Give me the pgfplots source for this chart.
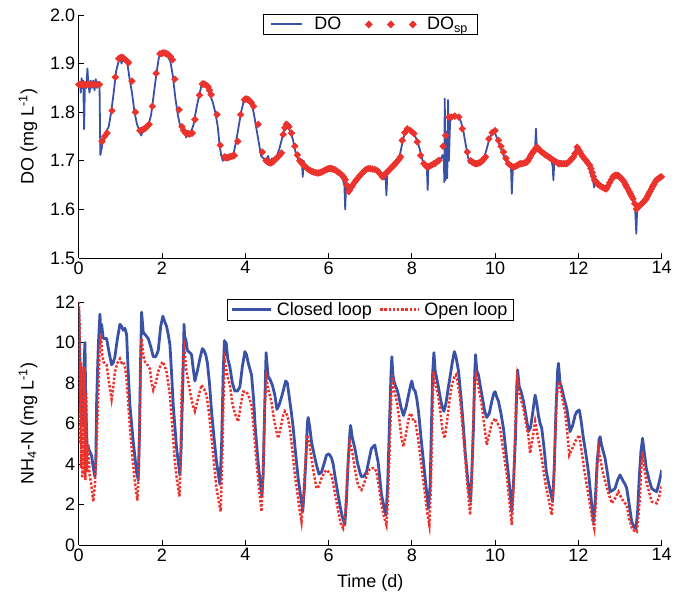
\documentclass[border=0pt]{standalone}
\usepackage{fontspec}
\setmainfont{Liberation Sans}
\usepackage{pgfplots}
\pgfplotsset{compat=1.18}

\definecolor{doblue}{RGB}{58,82,166}
\definecolor{spred}{RGB}{236,50,44}

\pgfplotsset{
  panel/.style={
    scale only axis, width=583bp, height=243bp,
    axis lines=left, axis line style={-, line width=0.8bp},
    tick align=inside, major tick length=5bp,
    tick style={line width=0.8bp, black},
    xmin=0, xmax=14, xtick={0,2,...,14},
    /pgf/number format/assume math mode=true,
    every axis y label/.style={at={(axis description cs:0,0.5)}, xshift=-50.7bp, rotate=90, anchor=center},
    legend style={draw=black, line width=0.8bp, fill=white, inner ysep=1bp,
      at={(0.5,1)}, anchor=north, legend columns=-1},
    legend cell align=left,
  },
  leg line/.style={legend image code/.code={\draw[##1] (0bp,0bp) -- (#1,0bp);}},
  leg marks/.style={legend image code/.code={\draw[##1] plot coordinates {(0bp,0bp) (22bp,0bp) (44bp,0bp)};}},
}

\begin{document}
\begin{tikzpicture}[font=\fontsize{18bp}{21bp}\selectfont]
\useasboundingbox (0,0) rectangle (684bp,594bp);

% dissolved oxygen
\begin{axis}[panel, at={(78.7bp,336bp)}, anchor=south west,
  ymin=1.5, ymax=2.0, ytick={1.5,1.6,...,2.0},
  yticklabel style={/pgf/number format/.cd, fixed, fixed zerofill, precision=1},
  ylabel={DO (mg L\textsuperscript{-1})},
  legend style={yshift=1bp, inner xsep=7bp,
    /tikz/every odd column/.append style={column sep=9bp},
    /tikz/every even column/.append style={column sep=22bp}},
]
\addlegendimage{doblue, line width=2bp, leg line=31bp}
\addlegendentry{DO}
\addplot[only marks, mark=square*, mark size=2.4bp, mark options={rotate=45, draw=spred, fill=spred},
  leg marks] coordinates {
(0.00,1.857) (0.05,1.857) (0.10,1.857) (0.15,1.857) (0.20,1.857) (0.25,1.857) (0.30,1.857) (0.35,1.857)
(0.40,1.857) (0.45,1.857) (0.50,1.857) (0.56,1.740) (0.62,1.750) (0.68,1.757) (0.80,1.803) (0.88,1.872)
(0.96,1.910) (1.00,1.912) (1.04,1.913) (1.08,1.911) (1.12,1.908) (1.16,1.905) (1.20,1.902) (1.28,1.864)
(1.36,1.800) (1.47,1.762) (1.51,1.763) (1.56,1.765) (1.60,1.767) (1.63,1.770) (1.66,1.772) (1.69,1.775)
(1.77,1.812) (1.86,1.880) (1.95,1.920) (1.99,1.921) (2.02,1.922) (2.05,1.922) (2.09,1.921) (2.12,1.920)
(2.16,1.918) (2.20,1.915) (2.25,1.908) (2.31,1.868) (2.41,1.805) (2.48,1.770) (2.52,1.762) (2.57,1.757)
(2.61,1.756) (2.65,1.755) (2.69,1.756) (2.73,1.757) (2.79,1.785) (2.90,1.835) (2.97,1.858) (3.00,1.858)
(3.04,1.857) (3.07,1.855) (3.11,1.852) (3.14,1.845) (3.18,1.836) (3.32,1.795) (3.40,1.732) (3.50,1.708)
(3.53,1.707) (3.56,1.706) (3.59,1.707) (3.62,1.708) (3.66,1.709) (3.70,1.710) (3.74,1.711) (3.82,1.740)
(3.89,1.795) (3.98,1.826) (4.01,1.827) (4.04,1.827) (4.07,1.826) (4.10,1.824) (4.14,1.820) (4.20,1.812)
(4.31,1.775) (4.41,1.718) (4.50,1.700) (4.53,1.698) (4.56,1.697) (4.60,1.696) (4.63,1.696) (4.67,1.698)
(4.71,1.702) (4.75,1.705) (4.81,1.710) (4.87,1.716) (4.91,1.754) (4.95,1.768) (4.99,1.775) (5.02,1.773)
(5.05,1.770) (5.11,1.757) (5.19,1.730) (5.25,1.712) (5.31,1.700) (5.34,1.697) (5.38,1.693) (5.41,1.690)
(5.44,1.688) (5.48,1.685) (5.52,1.682) (5.56,1.680) (5.60,1.678) (5.64,1.677) (5.68,1.676) (5.72,1.675)
(5.76,1.675) (5.80,1.676) (5.84,1.677) (5.88,1.679) (5.92,1.681) (5.95,1.682) (5.98,1.683) (6.01,1.684)
(6.04,1.684) (6.07,1.684) (6.10,1.683) (6.13,1.682) (6.16,1.681) (6.20,1.679) (6.24,1.676) (6.28,1.674)
(6.32,1.671) (6.36,1.667) (6.40,1.661) (6.44,1.650) (6.48,1.637) (6.51,1.640) (6.55,1.646) (6.58,1.650)
(6.62,1.655) (6.66,1.660) (6.70,1.664) (6.74,1.668) (6.78,1.672) (6.82,1.676) (6.86,1.679) (6.90,1.682)
(6.95,1.684) (7.00,1.684) (7.05,1.683) (7.11,1.682) (7.17,1.680) (7.23,1.674) (7.29,1.667) (7.32,1.669)
(7.35,1.672) (7.38,1.675) (7.41,1.677) (7.45,1.681) (7.49,1.684) (7.53,1.688) (7.57,1.691) (7.61,1.695)
(7.65,1.699) (7.69,1.703) (7.73,1.708) (7.77,1.742) (7.83,1.758) (7.89,1.766) (7.97,1.762) (8.05,1.756)
(8.13,1.739) (8.21,1.711) (8.29,1.694) (8.33,1.690) (8.37,1.687) (8.41,1.688) (8.45,1.690) (8.49,1.692)
(8.53,1.694) (8.56,1.695) (8.59,1.697) (8.62,1.699) (8.65,1.701) (8.75,1.730) (8.81,1.752) (8.89,1.790)
(8.95,1.790) (9.03,1.792) (9.13,1.790) (9.21,1.766) (9.33,1.718) (9.41,1.700) (9.44,1.698) (9.47,1.697)
(9.50,1.695) (9.53,1.694) (9.56,1.694) (9.59,1.695) (9.62,1.696) (9.65,1.697) (9.68,1.699) (9.71,1.702)
(9.74,1.705) (9.77,1.708) (9.85,1.745) (9.93,1.758) (10.00,1.762) (10.08,1.742) (10.14,1.730) (10.20,1.718)
(10.26,1.705) (10.32,1.694) (10.38,1.690) (10.44,1.687) (10.48,1.688) (10.52,1.690) (10.56,1.692) (10.60,1.694)
(10.64,1.694) (10.68,1.695) (10.72,1.696) (10.76,1.697) (10.79,1.700) (10.82,1.705) (10.85,1.710) (10.88,1.714)
(10.91,1.718) (10.94,1.721) (10.97,1.725) (11.00,1.728) (11.03,1.726) (11.06,1.723) (11.09,1.720) (11.12,1.718)
(11.15,1.716) (11.18,1.714) (11.21,1.712) (11.24,1.711) (11.28,1.708) (11.32,1.706) (11.36,1.703) (11.40,1.701)
(11.44,1.699) (11.48,1.697) (11.52,1.695) (11.56,1.694) (11.60,1.694) (11.64,1.694) (11.68,1.694) (11.72,1.694)
(11.76,1.697) (11.80,1.700) (11.84,1.704) (11.88,1.708) (11.92,1.715) (11.97,1.728) (12.01,1.722) (12.04,1.718)
(12.08,1.712) (12.11,1.708) (12.15,1.704) (12.19,1.700) (12.23,1.695) (12.27,1.691) (12.30,1.684) (12.33,1.676)
(12.36,1.668) (12.39,1.660) (12.42,1.657) (12.45,1.654) (12.48,1.651) (12.51,1.649) (12.55,1.647) (12.59,1.645)
(12.63,1.643) (12.67,1.642) (12.71,1.648) (12.75,1.655) (12.79,1.661) (12.83,1.667) (12.86,1.669) (12.89,1.670)
(12.92,1.670) (12.95,1.670) (12.98,1.668) (13.01,1.665) (13.04,1.663) (13.07,1.660) (13.10,1.656) (13.13,1.651)
(13.16,1.646) (13.19,1.642) (13.22,1.637) (13.25,1.632) (13.28,1.627) (13.31,1.622) (13.35,1.612) (13.39,1.601)
(13.42,1.603) (13.45,1.606) (13.48,1.608) (13.51,1.611) (13.54,1.613) (13.57,1.616) (13.60,1.619) (13.63,1.622)
(13.66,1.627) (13.69,1.632) (13.72,1.637) (13.75,1.642) (13.78,1.647) (13.81,1.651) (13.84,1.656) (13.87,1.660)
(13.90,1.662) (13.93,1.664) (13.96,1.666) (13.99,1.667)
};
\addlegendentry{DO\textsubscript{sp}}
\addplot[doblue, line width=1.8bp, line join=round, forget plot] coordinates {
(0.00,1.855) (0.03,1.862) (0.05,1.840) (0.07,1.870) (0.09,1.850) (0.11,1.865) (0.13,1.765) (0.15,1.860)
(0.18,1.850) (0.21,1.890) (0.23,1.860) (0.26,1.840) (0.29,1.865) (0.32,1.850) (0.35,1.865) (0.38,1.845)
(0.41,1.868) (0.44,1.850) (0.47,1.862) (0.50,1.855) (0.52,1.712) (0.55,1.725) (0.58,1.740) (0.62,1.745)
(0.66,1.760) (0.72,1.770) (0.78,1.800) (0.84,1.840) (0.90,1.885) (0.96,1.905) (1.00,1.912) (1.03,1.900)
(1.06,1.918) (1.09,1.905) (1.12,1.912) (1.17,1.900) (1.22,1.870) (1.28,1.840) (1.34,1.800) (1.40,1.775)
(1.46,1.762) (1.50,1.752) (1.55,1.762) (1.62,1.768) (1.68,1.775) (1.74,1.795) (1.80,1.835) (1.86,1.875)
(1.92,1.910) (1.97,1.922) (2.03,1.918) (2.08,1.922) (2.13,1.915) (2.20,1.905) (2.26,1.875) (2.32,1.830)
(2.38,1.795) (2.44,1.770) (2.50,1.760) (2.55,1.765) (2.58,1.748) (2.62,1.762) (2.66,1.750) (2.70,1.760)
(2.76,1.775) (2.82,1.805) (2.88,1.830) (2.94,1.852) (2.98,1.862) (3.04,1.855) (3.10,1.848) (3.16,1.835)
(3.22,1.820) (3.28,1.800) (3.34,1.770) (3.38,1.735) (3.42,1.712) (3.46,1.700) (3.52,1.705) (3.58,1.705)
(3.66,1.712) (3.72,1.715) (3.78,1.740) (3.84,1.770) (3.90,1.800) (3.96,1.822) (4.02,1.826) (4.08,1.823)
(4.14,1.820) (4.20,1.800) (4.26,1.770) (4.32,1.740) (4.38,1.710) (4.44,1.705) (4.50,1.700) (4.55,1.710)
(4.60,1.690) (4.64,1.705) (4.70,1.700) (4.76,1.710) (4.82,1.725) (4.88,1.745) (4.94,1.765) (4.98,1.780)
(5.02,1.770) (5.08,1.760) (5.14,1.745) (5.20,1.720) (5.26,1.705) (5.32,1.695) (5.36,1.702) (5.38,1.667)
(5.40,1.700) (5.46,1.688) (5.52,1.685) (5.58,1.680) (5.66,1.675) (5.74,1.676) (5.82,1.678) (5.90,1.681)
(5.96,1.685) (6.02,1.683) (6.10,1.685) (6.18,1.680) (6.26,1.672) (6.34,1.662) (6.38,1.650) (6.40,1.600)
(6.42,1.648) (6.46,1.642) (6.50,1.632) (6.56,1.645) (6.62,1.652) (6.70,1.662) (6.78,1.672) (6.86,1.680)
(6.94,1.685) (7.02,1.682) (7.10,1.684) (7.18,1.678) (7.26,1.668) (7.32,1.662) (7.37,1.665) (7.39,1.629)
(7.41,1.672) (7.46,1.678) (7.52,1.684) (7.60,1.692) (7.66,1.700) (7.72,1.715) (7.78,1.740) (7.84,1.760)
(7.90,1.768) (7.96,1.762) (8.02,1.758) (8.08,1.750) (8.14,1.740) (8.20,1.720) (8.26,1.700) (8.30,1.692)
(8.36,1.688) (8.38,1.640) (8.40,1.690) (8.46,1.688) (8.52,1.694) (8.58,1.696) (8.64,1.700) (8.70,1.705)
(8.74,1.712) (8.77,1.700) (8.78,1.656) (8.79,1.828) (8.81,1.660) (8.83,1.760) (8.85,1.664) (8.87,1.825)
(8.89,1.700) (8.92,1.785) (8.98,1.790) (9.05,1.795) (9.12,1.792) (9.18,1.780) (9.24,1.760) (9.30,1.730)
(9.34,1.712) (9.38,1.695) (9.42,1.705) (9.46,1.692) (9.50,1.700) (9.56,1.695) (9.62,1.698) (9.68,1.700)
(9.74,1.708) (9.80,1.725) (9.86,1.745) (9.92,1.755) (9.97,1.762) (10.02,1.752) (10.08,1.738) (10.14,1.725)
(10.20,1.712) (10.26,1.700) (10.32,1.692) (10.38,1.690) (10.40,1.632) (10.43,1.690) (10.50,1.690) (10.58,1.694)
(10.66,1.696) (10.74,1.698) (10.80,1.703) (10.86,1.712) (10.92,1.720) (10.96,1.725) (10.98,1.766) (11.00,1.730)
(11.06,1.722) (11.12,1.716) (11.20,1.712) (11.28,1.707) (11.34,1.703) (11.38,1.690) (11.40,1.660) (11.42,1.700)
(11.46,1.698) (11.50,1.700) (11.52,1.688) (11.55,1.700) (11.62,1.695) (11.70,1.696) (11.78,1.700) (11.86,1.710)
(11.92,1.720) (11.96,1.732) (12.02,1.720) (12.08,1.710) (12.14,1.702) (12.20,1.695) (12.26,1.685) (12.30,1.672)
(12.35,1.660) (12.38,1.645) (12.40,1.664) (12.46,1.652) (12.52,1.648) (12.60,1.645) (12.66,1.645) (12.72,1.652)
(12.78,1.662) (12.84,1.668) (12.90,1.671) (12.96,1.668) (13.02,1.664) (13.08,1.658) (13.14,1.648) (13.20,1.638)
(13.26,1.628) (13.32,1.615) (13.36,1.605) (13.39,1.550) (13.41,1.600) (13.44,1.612) (13.48,1.608) (13.54,1.612)
(13.60,1.620) (13.66,1.628) (13.72,1.638) (13.78,1.648) (13.84,1.656) (13.90,1.662) (13.96,1.666) (14.00,1.664)
};
\end{axis}

% ammonium
\begin{axis}[panel, at={(78.7bp,49bp)}, anchor=south west,
  ymin=0, ymax=12, ytick={0,2,...,12},
  ylabel={NH\textsubscript{4}-N (mg L\textsuperscript{-1})},
  xlabel={Time (d)},
  xlabel style={at={(axis description cs:0.5,0)}, yshift=-38bp, anchor=center},
  legend style={yshift=3bp, inner xsep=4bp,
    /tikz/every odd column/.append style={column sep=2bp},
    /tikz/every even column/.append style={column sep=5bp}},
]
\addplot[doblue, line width=2.8bp, line join=round, leg line=39bp] coordinates {
(0.00,11.8) (0.03,9.0) (0.05,6.5) (0.07,8.5) (0.09,6.0) (0.12,8.5) (0.15,10.0) (0.17,7.0)
(0.20,5.0) (0.23,4.8) (0.27,4.6) (0.31,4.4) (0.35,3.8) (0.39,3.37) (0.41,4.0) (0.43,7.0)
(0.47,9.8) (0.51,11.4) (0.53,10.5) (0.55,10.9) (0.59,10.2) (0.67,10.2) (0.73,9.5) (0.79,8.9)
(0.83,9.0) (0.87,9.3) (0.93,10.2) (0.99,10.9) (1.03,10.8) (1.07,10.6) (1.11,10.7) (1.15,10.4)
(1.19,8.5) (1.23,6.9) (1.31,5.1) (1.39,3.6) (1.43,3.2) (1.46,5.5) (1.48,8.5) (1.51,11.5)
(1.53,11.0) (1.55,10.5) (1.59,10.4) (1.67,10.2) (1.73,9.8) (1.79,9.3) (1.85,9.3) (1.91,9.6)
(1.97,10.8) (2.02,11.3) (2.07,11.0) (2.11,10.8) (2.15,10.4) (2.19,9.9) (2.23,8.5) (2.27,6.9)
(2.35,4.8) (2.43,3.45) (2.46,4.8) (2.50,7.9) (2.53,10.9) (2.55,10.0) (2.57,10.2) (2.61,9.6)
(2.67,9.5) (2.71,9.4) (2.75,8.7) (2.79,8.1) (2.85,8.6) (2.91,9.2) (2.97,9.7) (3.01,9.6)
(3.05,9.4) (3.09,9.0) (3.14,8.0) (3.19,6.6) (3.25,5.3) (3.31,4.1) (3.39,3.0) (3.43,4.8)
(3.47,8.5) (3.50,10.1) (3.52,9.4) (3.54,10.0) (3.58,9.2) (3.63,8.8) (3.69,8.0) (3.75,7.6)
(3.81,7.6) (3.87,7.8) (3.93,8.8) (3.99,9.55) (4.03,9.4) (4.07,9.0) (4.11,8.7) (4.15,8.4)
(4.20,7.2) (4.24,5.8) (4.32,3.8) (4.40,2.4) (4.43,3.5) (4.47,7.1) (4.50,9.5) (4.52,9.0)
(4.55,8.3) (4.59,8.2) (4.65,7.9) (4.71,7.4) (4.76,6.7) (4.81,6.9) (4.87,7.3) (4.91,7.6)
(4.97,8.1) (5.01,8.0) (5.07,7.1) (5.11,6.5) (5.15,5.8) (5.21,4.5) (5.27,3.3) (5.33,2.4)
(5.38,1.65) (5.42,2.8) (5.46,4.4) (5.49,6.0) (5.51,6.3) (5.55,5.8) (5.59,5.1) (5.65,4.5)
(5.71,3.95) (5.77,3.5) (5.83,3.6) (5.89,4.0) (5.95,4.44) (6.01,4.5) (6.07,4.3) (6.11,4.0)
(6.15,3.46) (6.21,2.7) (6.27,2.0) (6.33,1.4) (6.39,1.0) (6.43,2.2) (6.47,4.1) (6.51,5.5)
(6.53,5.9) (6.57,5.3) (6.63,4.8) (6.69,4.1) (6.75,3.6) (6.79,3.37) (6.85,3.4) (6.91,3.6)
(6.97,4.2) (7.03,4.77) (7.07,4.85) (7.11,4.94) (7.15,4.5) (7.19,4.1) (7.23,3.3) (7.27,2.5)
(7.33,1.9) (7.38,1.48) (7.42,3.0) (7.46,5.8) (7.50,8.5) (7.52,9.3) (7.54,8.5) (7.57,8.1)
(7.60,7.9) (7.64,7.7) (7.68,7.4) (7.74,6.8) (7.80,6.4) (7.86,6.8) (7.92,7.4) (7.97,7.9)
(8.00,8.1) (8.04,7.7) (8.08,7.6) (8.12,7.2) (8.16,6.6) (8.22,5.3) (8.28,4.1) (8.34,2.9)
(8.40,1.8) (8.44,3.0) (8.47,5.8) (8.50,8.5) (8.53,9.5) (8.56,8.6) (8.60,8.2) (8.63,7.9)
(8.68,7.3) (8.73,6.8) (8.77,6.6) (8.82,7.0) (8.87,7.7) (8.91,8.2) (8.97,9.0) (9.02,9.55)
(9.06,9.3) (9.12,8.6) (9.18,7.3) (9.24,5.8) (9.28,4.6) (9.33,3.5) (9.37,2.7) (9.41,2.14)
(9.44,3.5) (9.48,5.8) (9.51,8.5) (9.53,9.4) (9.56,8.6) (9.60,8.4) (9.64,7.9) (9.70,7.2)
(9.75,6.6) (9.80,6.3) (9.86,6.5) (9.92,7.1) (9.97,7.5) (10.00,7.57) (10.04,7.3) (10.08,7.1)
(10.14,6.5) (10.20,5.76) (10.26,4.6) (10.32,3.46) (10.36,2.6) (10.40,1.65) (10.44,3.0) (10.49,5.4)
(10.52,7.8) (10.54,8.64) (10.58,7.8) (10.62,7.6) (10.68,7.1) (10.74,6.4) (10.80,5.6) (10.85,5.8)
(10.90,6.5) (10.96,7.4) (11.00,7.0) (11.04,6.4) (11.08,6.0) (11.12,5.76) (11.18,4.7) (11.23,3.62)
(11.30,2.9) (11.38,2.14) (11.42,3.8) (11.46,6.6) (11.50,8.6) (11.52,8.97) (11.56,8.0) (11.60,7.74)
(11.66,7.2) (11.72,6.75) (11.76,6.2) (11.80,5.6) (11.86,5.9) (11.92,6.4) (11.96,6.58) (12.02,6.67)
(12.06,6.2) (12.12,5.27) (12.18,4.5) (12.24,3.62) (12.30,2.4) (12.36,1.15) (12.40,2.0) (12.45,4.1)
(12.50,5.2) (12.52,5.35) (12.56,4.9) (12.64,4.28) (12.70,3.5) (12.76,2.63) (12.82,2.7) (12.88,2.8)
(12.94,3.2) (13.00,3.46) (13.04,3.3) (13.08,3.13) (13.12,3.0) (13.16,2.8) (13.22,2.0) (13.28,1.15)
(13.33,0.9) (13.38,0.82) (13.42,1.6) (13.46,3.29) (13.50,4.6) (13.54,5.27) (13.58,4.6) (13.63,3.79)
(13.70,3.2) (13.76,2.8) (13.82,2.7) (13.88,2.63) (13.94,3.1) (14.00,3.7)
};
\addlegendentry{Closed loop}
\addplot[spred, line width=2.5bp, dash pattern=on 2.4bp off 1.8bp, leg line=39bp] coordinates {
(0.00,12.0) (0.02,11.0) (0.03,5.0) (0.05,9.0) (0.06,3.8) (0.08,8.8) (0.09,3.3) (0.11,8.5)
(0.12,3.5) (0.14,8.8) (0.16,3.2) (0.18,7.5) (0.20,3.6) (0.23,5.0) (0.26,3.5) (0.30,3.0)
(0.35,2.14) (0.39,3.0) (0.43,5.0) (0.47,7.4) (0.50,9.5) (0.53,10.4) (0.56,9.5) (0.59,9.05)
(0.67,8.9) (0.73,8.0) (0.79,7.2) (0.83,7.8) (0.87,8.56) (0.93,9.0) (0.99,9.2) (1.03,9.0)
(1.07,9.05) (1.11,8.8) (1.15,8.2) (1.19,7.0) (1.23,5.8) (1.29,4.3) (1.35,3.1) (1.41,2.2)
(1.44,3.5) (1.46,5.8) (1.49,8.8) (1.51,10.2) (1.55,9.4) (1.59,9.05) (1.65,8.9) (1.71,8.7)
(1.75,8.0) (1.79,7.65) (1.85,8.0) (1.91,8.56) (1.97,8.9) (2.02,9.05) (2.07,8.8) (2.11,8.56)
(2.15,8.0) (2.19,7.4) (2.25,5.8) (2.31,4.1) (2.36,3.2) (2.42,2.4) (2.45,4.5) (2.47,7.4)
(2.51,9.3) (2.54,9.7) (2.58,8.7) (2.63,8.07) (2.69,7.4) (2.74,6.9) (2.79,6.6) (2.85,7.1)
(2.91,7.6) (2.95,7.9) (3.01,7.7) (3.07,7.4) (3.13,6.5) (3.19,5.3) (3.25,4.0) (3.31,2.8)
(3.36,2.2) (3.41,1.65) (3.45,4.5) (3.48,7.5) (3.51,9.05) (3.55,8.6) (3.59,8.2) (3.63,7.9)
(3.69,7.0) (3.75,6.5) (3.83,6.1) (3.89,6.9) (3.95,7.57) (4.03,7.57) (4.09,7.3) (4.15,6.9)
(4.21,5.6) (4.27,4.1) (4.33,2.8) (4.39,1.65) (4.43,3.8) (4.47,6.9) (4.51,8.2) (4.55,7.7)
(4.63,7.08) (4.69,6.2) (4.75,5.6) (4.79,5.27) (4.85,5.8) (4.91,6.4) (4.95,6.6) (5.01,6.4)
(5.07,5.76) (5.13,4.7) (5.19,3.46) (5.25,2.6) (5.30,1.8) (5.35,1.15) (5.40,2.5) (5.45,4.3)
(5.49,5.43) (5.54,5.0) (5.59,4.28) (5.65,3.5) (5.71,2.8) (5.77,2.9) (5.83,3.3) (5.91,3.62)
(5.97,3.7) (6.03,3.5) (6.07,3.46) (6.13,2.8) (6.19,2.14) (6.25,1.5) (6.30,1.0) (6.35,0.82)
(6.40,1.5) (6.45,3.5) (6.51,5.1) (6.57,4.6) (6.63,3.79) (6.69,3.1) (6.75,2.8) (6.79,2.72)
(6.85,3.0) (6.91,3.4) (6.97,3.7) (7.05,3.8) (7.11,3.79) (7.15,3.6) (7.21,2.9) (7.27,1.98)
(7.33,1.4) (7.39,0.99) (7.43,2.5) (7.47,5.0) (7.51,7.5) (7.54,8.4) (7.58,7.6) (7.64,7.08)
(7.70,6.2) (7.75,5.3) (7.80,4.86) (7.86,5.5) (7.92,6.2) (7.96,6.5) (8.00,6.4) (8.04,6.1)
(8.08,6.1) (8.14,5.4) (8.20,4.44) (8.26,3.4) (8.32,2.47) (8.37,1.6) (8.42,0.99) (8.46,3.0)
(8.49,6.0) (8.52,8.56) (8.56,8.0) (8.63,7.4) (8.69,6.5) (8.74,5.6) (8.79,5.27) (8.85,6.2)
(8.91,7.24) (8.96,7.9) (9.02,8.3) (9.06,8.4) (9.11,7.9) (9.15,7.4) (9.21,6.0) (9.27,4.6)
(9.33,3.0) (9.37,2.2) (9.40,1.48) (9.44,3.5) (9.48,6.5) (9.51,8.0) (9.54,8.4) (9.60,7.8)
(9.68,6.9) (9.74,5.9) (9.80,4.94) (9.86,5.5) (9.92,6.0) (10.00,6.26) (10.06,6.0) (10.12,5.76)
(10.20,4.6) (10.28,3.46) (10.34,2.2) (10.40,0.99) (10.44,2.8) (10.48,5.5) (10.51,7.6) (10.53,8.23)
(10.58,7.5) (10.63,7.1) (10.68,6.75) (10.74,6.0) (10.80,5.4) (10.84,4.53) (10.90,5.3) (10.96,6.1)
(11.02,5.4) (11.08,4.77) (11.14,4.0) (11.20,3.13) (11.28,2.3) (11.36,1.48) (11.40,2.8) (11.44,5.2)
(11.48,7.4) (11.54,8.07) (11.60,7.4) (11.68,6.58) (11.74,5.4) (11.78,4.44) (11.84,4.7) (11.92,5.1)
(12.02,5.43) (12.08,4.6) (12.16,3.46) (12.22,2.7) (12.28,1.98) (12.33,1.3) (12.38,0.82) (12.42,2.2)
(12.45,3.8) (12.48,4.77) (12.54,4.1) (12.60,3.46) (12.70,2.7) (12.80,2.06) (12.88,2.3) (12.96,2.63)
(13.04,2.3) (13.10,2.1) (13.16,1.98) (13.22,1.3) (13.30,0.74) (13.36,0.7) (13.40,0.66) (13.44,1.4)
(13.48,2.47) (13.51,3.8) (13.54,4.6) (13.58,3.8) (13.63,3.13) (13.70,2.6) (13.76,2.14) (13.82,2.1)
(13.88,2.06) (13.94,2.4) (14.00,2.96)
};
\addlegendentry{Open loop}
\end{axis}
\end{tikzpicture}
\end{document}
